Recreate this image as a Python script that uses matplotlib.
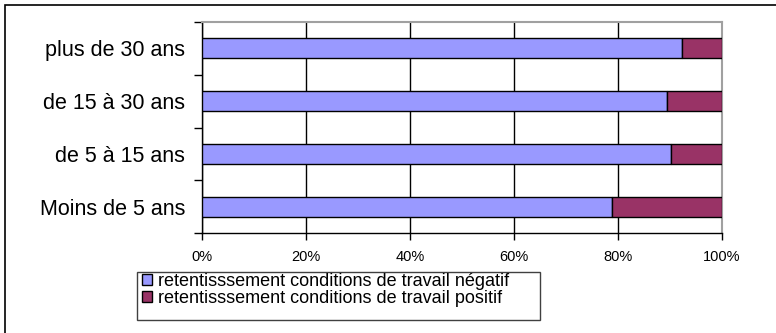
import matplotlib.pyplot as plt
from matplotlib.patches import Rectangle

plt.rcParams['font.family'] = ['Liberation Sans', 'DejaVu Sans']

# Survey data (share of answers, %)
categories = ['Moins de 5 ans', 'de 5 à 15 ans', 'de 15 à 30 ans', 'plus de 30 ans']
negatif = [78.8, 90.1, 89.4, 92.4]
positif = [21.2, 9.9, 10.6, 7.6]
labels = ['retentisssement conditions de travail négatif',
          'retentisssement conditions de travail positif']
xticks = [0, 20, 40, 60, 80, 100]

W, H = 776, 333
fig = plt.figure(figsize=(W / 100, H / 100), dpi=100)
ax = fig.add_axes([202 / W, 1 - 233 / H, 520 / W, 211 / H])

ypos = range(len(categories))
b1 = ax.barh(ypos, negatif, height=0.38, color='#9999ff', edgecolor='black',
             linewidth=1, label=labels[0], zorder=3)
b2 = ax.barh(ypos, positif, left=negatif, height=0.38, color='#993366',
             edgecolor='black', linewidth=1, label=labels[1], zorder=3)

ax.set_xlim(0, 100)
ax.set_ylim(-0.5, len(categories) - 0.5)

# vertical grid at each 20%
ax.set_xticks(xticks)
ax.set_xticklabels([f'{v}%' for v in xticks], fontsize=10.5)
ax.xaxis.grid(True, color='black', linewidth=1, zorder=0)
ax.tick_params(axis='x', direction='out', length=5, width=1, pad=7)

# category labels centred, tick marks between categories
ax.set_yticks(list(ypos))
ax.set_yticklabels(categories, fontsize=15.5)
ax.set_yticks([i - 0.5 for i in range(len(categories) + 1)], minor=True)
ax.tick_params(axis='y', which='major', length=0, pad=12)
ax.tick_params(axis='y', which='minor', direction='out', length=6, width=1)

for side in ('top', 'right'):
    ax.spines[side].set_color('#a0a0a0')
    ax.spines[side].set_linewidth(1.5)
for side in ('left', 'bottom'):
    ax.spines[side].set_color('black')
    ax.spines[side].set_linewidth(1)
ax.set_axisbelow(True)

# legend box drawn separately so it can be wider than the entries
fig.patches.append(Rectangle((137 / W, 1 - 320 / H), 403 / W, 48 / H,
                             transform=fig.transFigure, fill=False,
                             edgecolor='#404040', linewidth=1))
fig.legend(handles=[b1, b2], labels=labels, loc='upper left',
           bbox_to_anchor=(138 / W, 1 - 269 / H), fontsize=13,
           frameon=False, handlelength=0.6, handleheight=0.6,
           handletextpad=0.3, labelspacing=0.0, borderpad=0.2,
           borderaxespad=0)

# outer chart frame (only top and left edges fall inside the image)
fig.patches.append(Rectangle((5 / W, -0.1), 1.2, 1.1 - 5 / H,
                             transform=fig.transFigure, fill=False,
                             edgecolor='black', linewidth=1.2))

fig.savefig('out.png', dpi=100)
